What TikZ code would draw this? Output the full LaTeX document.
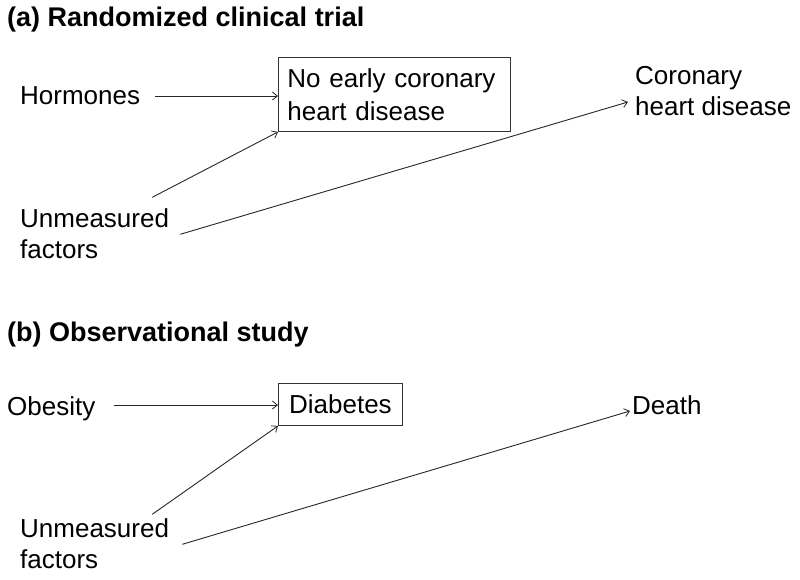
\documentclass[tikz,border=0pt]{standalone}
\usepackage{fontspec}
\setmainfont{Liberation Sans}
\usetikzlibrary{arrows.meta}
\begin{document}
\begin{tikzpicture}[x=1pt,y=-1pt,
  txt/.style={inner sep=0pt,font=\fontsize{26}{31}\selectfont,align=left},
  ttl/.style={inner sep=0pt,font=\fontsize{27}{31}\selectfont\bfseries},
  boxnode/.style={draw=black!80,line width=0.9pt,inner xsep=9pt,inner ysep=0pt,
    font=\fontsize{26}{33}\selectfont,align=left},
  arr/.style={line width=0.9pt,draw=black!85,-{Straight Barb[length=5pt,width=8pt,line width=0.8pt]}}]
\useasboundingbox (0,0) rectangle (800,579);
% (a)
\node[ttl,anchor=base west] (ta) at (7,26) {(a) Randomized clinical trial};
\node[txt,anchor=base west] (horm) at (20,104) {Hormones};
\node[boxnode,anchor=north west,text width=214pt,minimum height=74pt] (box) at (278,57)
  {No early coronary\\heart disease};
\node[txt,anchor=north west] (unma) at (20,208.3) {Unmeasured\\factors};
\node[txt,anchor=north west] (chd) at (635,66) {Coronary\\heart disease};
\path ([xshift=15pt,yshift=8pt]horm.base east) coordinate (hs);
\draw[arr] (hs) -- (hs -| box.west);
\draw[arr] ([xshift=-17pt,yshift=11pt]unma.north east) -- (box.south west);
\draw[arr] ([xshift=11pt,yshift=-26pt]unma.north east) -- ([xshift=-7pt,yshift=-36pt]chd.north west);
% (b)
\node[ttl,anchor=base west] (tb) at (7,341) {(b) Observational study};
\node[txt,anchor=base west] (ob) at (7,415) {Obesity};
\node[boxnode,anchor=north west,minimum width=124pt,minimum height=42pt] (dia) at (278,383) {Diabetes};
\node[txt,anchor=north west] (unmb) at (20,518.3) {Unmeasured\\factors};
\node[txt,anchor=base west] (death) at (632,414) {Death};
\path ([xshift=18pt,yshift=10pt]ob.base east) coordinate (os);
\draw[arr] (os) -- (os -| dia.west);
\draw[arr] ([xshift=-17pt,yshift=4pt]unmb.north east) -- (dia.south west);
\draw[arr] ([xshift=13pt,yshift=-26pt]unmb.north east) -- ([xshift=-2pt,yshift=3pt]death.base west);
\end{tikzpicture}
\end{document}
